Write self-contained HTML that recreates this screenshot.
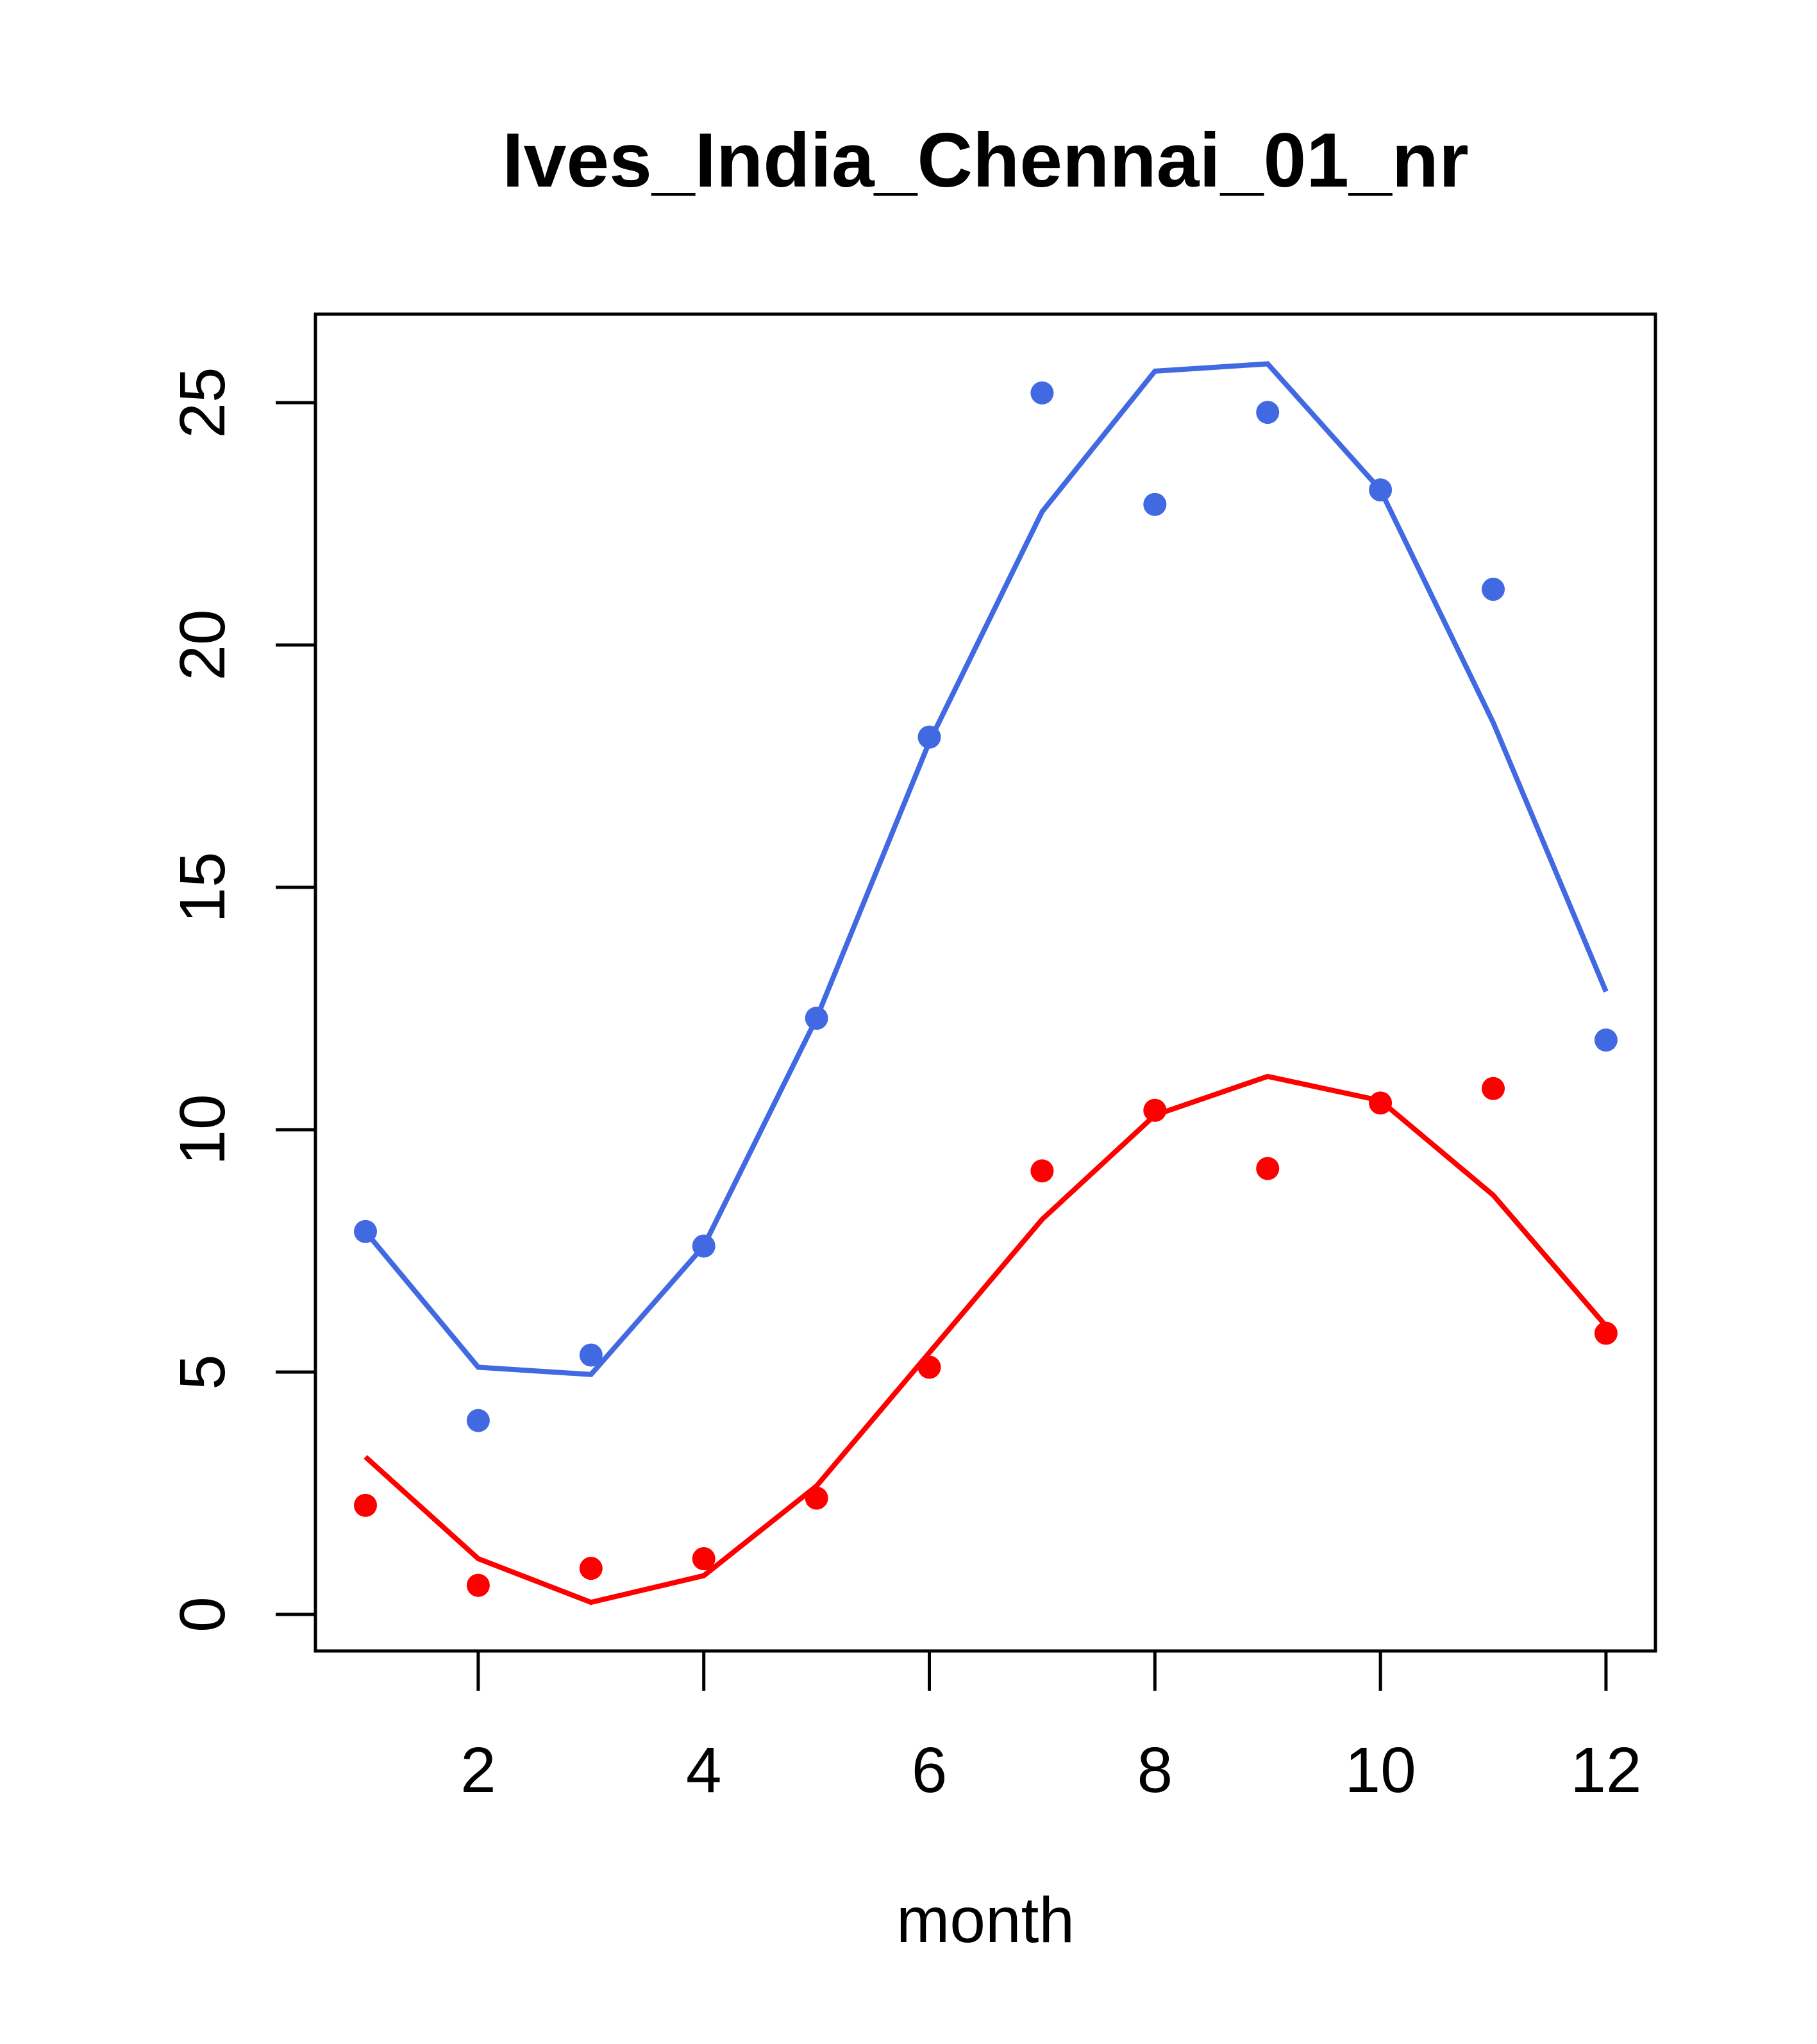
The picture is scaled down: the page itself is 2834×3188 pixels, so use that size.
<!DOCTYPE html>
<html><head><meta charset="utf-8"><style>html,body{margin:0;padding:0;background:#fff}svg{display:block}</style></head>
<body>
<svg id="chart" width="2834" height="3188" xmlns="http://www.w3.org/2000/svg" font-family="Liberation Sans, sans-serif">
<rect width="2834" height="3188" fill="#fff"/>
<text x="1537" y="291" font-size="120" font-weight="bold" text-anchor="middle">Ives_India_Chennai_01_nr</text>
<g id="plot"></g>
<rect x="492" y="490" width="2090" height="2085" fill="none" stroke="#000" stroke-width="5"/>
<text x="1537" y="3029" font-size="100" text-anchor="middle">month</text>
</svg>
<script>
const months = [1,2,3,4,5,6,7,8,9,10,11,12];
const bluePoints = [7.9,4.0,5.35,7.6,12.3,18.1,25.2,22.9,24.8,23.2,21.15,11.85];
const blueLine = [7.9,5.1,4.95,7.6,12.3,18.0,22.75,25.65,25.8,23.2,18.4,12.85];
const redPoints = [2.25,0.6,0.95,1.15,2.4,5.1,9.15,10.4,9.2,10.55,10.85,5.8];
const redLine = [3.25,1.15,0.25,0.8,2.65,5.4,8.15,10.3,11.1,10.6,8.65,5.95];
const xTicks = [2,4,6,8,10,12];
const yTicks = [0,5,10,15,20,25];

const NS = 'http://www.w3.org/2000/svg';
const svg = document.getElementById('chart');
const g = document.getElementById('plot');
function xs(m){ return 570 + (m-1)*175.9; }
function ys(v){ return 2518 - v*75.6; }
function mk(tag, attrs){ const e=document.createElementNS(NS,tag); for(const k in attrs) e.setAttribute(k,attrs[k]); return e; }

xTicks.forEach(t=>{
  const l = mk('line',{x1:xs(t),x2:xs(t),y1:2575,y2:2637,stroke:'#000','stroke-width':5});
  
  
  svg.appendChild(l);
  const tx = mk('text',{x:xs(t),y:2795,'font-size':100,'text-anchor':'middle'});
  tx.textContent = t;
  
  
  svg.appendChild(tx);
});
yTicks.forEach(t=>{
  const l = mk('line',{x1:430,x2:492,y1:ys(t),y2:ys(t),stroke:'#000','stroke-width':5});
  
  
  svg.appendChild(l);
  const tx = mk('text',{x:350,y:ys(t),'font-size':100,'text-anchor':'middle',transform:`rotate(-90 350 ${ys(t)})`});
  tx.textContent = t;
  
  
  svg.appendChild(tx);
});
function line(vals,color,name){
  const p = mk('polyline',{points:vals.map((v,i)=>xs(months[i])+','+ys(v)).join(' '),fill:'none',stroke:color,'stroke-width':8});
  
  
  g.appendChild(p);
}
function pts(vals,color,name){
  vals.forEach((v,i)=>{
    const c = mk('circle',{cx:xs(months[i]),cy:ys(v),r:18,fill:color});
    
    
    g.appendChild(c);
  });
}
line(blueLine,'#4169E1','blue-fit-line');
line(redLine,'#FF0000','red-fit-line');
pts(bluePoints,'#4169E1','blue-point');
pts(redPoints,'#FF0000','red-point');
</script>
</body></html>
